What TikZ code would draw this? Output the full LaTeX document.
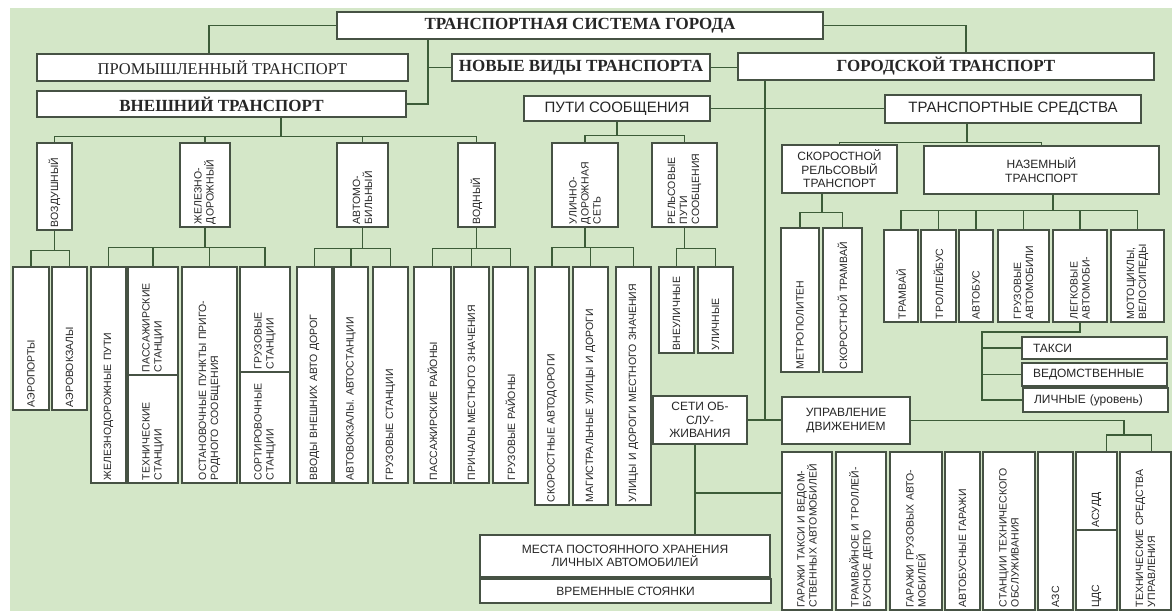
\documentclass[tikz,border=0pt]{standalone}
\usepackage{fontspec}
\setmainfont{Liberation Serif}
\setsansfont{Liberation Sans}
\usetikzlibrary{positioning,calc}
\definecolor{bggreen}{RGB}{212,231,200}
\definecolor{linegreen}{RGB}{60,92,56}
\definecolor{boxline}{RGB}{70,82,68}
\definecolor{inkgray}{RGB}{38,38,38}
\tikzset{
  topbox/.style={draw=boxline, fill=white, line width=1.2pt, inner sep=2pt, align=center, text=inkgray, font=\fontsize{17}{19}\selectfont\bfseries},
  topplain/.style={topbox, font=\fontsize{16.5}{19}\selectfont},
  midbox/.style={draw=boxline, fill=white, line width=1.2pt, inner sep=2pt, align=center, text=inkgray, font=\sffamily\fontsize{15}{17}\selectfont},
  smallbox/.style={midbox, font=\sffamily\fontsize{12}{13.5}\selectfont},
  listbox/.style={smallbox, align=left, text width=123},
  vbox/.style={draw=boxline, fill=white, line width=1.2pt, inner sep=2pt, rotate=90, align=left, text=inkgray, font=\sffamily\fontsize{10.5}{12}\selectfont},
  vsize/.code 2 args={\pgfmathsetlengthmacro\vtextw{#1-6}\pgfkeysalso{minimum width=#1, minimum height=#2, text width/.expand once=\vtextw}},
  link/.style={draw=linegreen, line width=1.2pt}
}

\begin{document}
\begin{tikzpicture}[x=1pt, y=-1pt]
  \useasboundingbox (0,0) rectangle (1172,611);
  \fill[white] (0,0) rectangle (1172,611);
  \fill[bggreen] (10,8) rectangle (1172,611);

  % upper levels
  \node[topbox, minimum width=486, minimum height=27] (root) at (580,25.5) {ТРАНСПОРТНАЯ СИСТЕМА ГОРОДА};
  \node[topplain, minimum width=371, minimum height=27] (prom) at (222.5,67.5) {ПРОМЫШЛЕННЫЙ ТРАНСПОРТ};
  \node[topbox, minimum width=369, minimum height=26] (vnesh) at (221.5,104) {ВНЕШНИЙ ТРАНСПОРТ};
  \node[topbox, minimum width=258, minimum height=27] (novye) at (581,67.5) {НОВЫЕ ВИДЫ ТРАНСПОРТА};
  \node[topbox, minimum width=416, minimum height=27] (gorod) at (946,66.5) {ГОРОДСКОЙ ТРАНСПОРТ};
  \node[midbox, minimum width=186, minimum height=25] (puti) at (617,108.5) {ПУТИ СООБЩЕНИЯ};
  \node[midbox, minimum width=256, minimum height=28] (sredstva) at (1013,109) {ТРАНСПОРТНЫЕ СРЕДСТВА};

  % external transport
  \node[vbox, vsize={87}{35}] (vozd) at (54.5,186.5) {ВОЗДУШНЫЙ};
  \node[vbox, vsize={84}{50}] (zhd) at (205,185) {ЖЕЛЕЗНО-\\ДОРОЖНЫЙ};
  \node[vbox, vsize={84}{51}] (avto) at (362.5,185) {АВТОМО-\\БИЛЬНЫЙ};
  \node[vbox, vsize={84}{37}] (vodn) at (476.5,185) {ВОДНЫЙ};
  \node[vbox, vsize={143}{36}] (aerop) at (31,338.5) {АЭРОПОРТЫ};
  \node[vbox, vsize={143}{35}] (aerov) at (69.5,338.5) {АЭРОВОКЗАЛЫ};
  \node[vbox, vsize={216}{35}] (zdput) at (108.5,375) {ЖЕЛЕЗНОДОРОЖНЫЕ ПУТИ};
  \node[vbox, vsize={108}{50}] (pass) at (153,321) {ПАССАЖИРСКИЕ\\СТАНЦИИ};
  \node[vbox, vsize={108}{50}] (tehn) at (153,429) {ТЕХНИЧЕСКИЕ\\СТАНЦИИ};
  \node[vbox, vsize={216}{55}] (ostan) at (209.5,375) {ОСТАНОВОЧНЫЕ ПУНКТЫ ПРИГО-\\РОДНОГО СООБЩЕНИЯ};
  \node[vbox, vsize={105}{50}] (gruzst) at (265,319.5) {ГРУЗОВЫЕ\\СТАНЦИИ};
  \node[vbox, vsize={111}{50}] (sort) at (265,427.5) {СОРТИРОВОЧНЫЕ\\СТАНЦИИ};
  \node[vbox, vsize={216}{35}] (vvody) at (314.5,375) {ВВОДЫ ВНЕШНИХ АВТО ДОРОГ};
  \node[vbox, vsize={216}{34}] (avtovokz) at (351,375) {АВТОВОКЗАЛЫ. АВТОСТАНЦИИ};
  \node[vbox, vsize={216}{35}] (gruzsta) at (390.5,375) {ГРУЗОВЫЕ СТАНЦИИ};
  \node[vbox, vsize={216}{37}] (passr) at (432.5,375) {ПАССАЖИРСКИЕ РАЙОНЫ};
  \node[vbox, vsize={216}{35}] (prich) at (471.5,375) {ПРИЧАЛЫ МЕСТНОГО ЗНАЧЕНИЯ};
  \node[vbox, vsize={216}{35}] (gruzr) at (510.5,375) {ГРУЗОВЫЕ РАЙОНЫ};

  % ways
  \node[vbox, vsize={84}{66}] (uds) at (585,185) {УЛИЧНО-\\ДОРОЖНАЯ\\СЕТЬ};
  \node[vbox, vsize={84}{65}] (rels) at (684.5,185) {РЕЛЬСОВЫЕ\\ПУТИ\\СООБЩЕНИЯ};
  \node[vbox, vsize={238}{34}] (skorad) at (552,386) {СКОРОСТНЫЕ АВТОДОРОГИ};
  \node[vbox, vsize={238}{35}] (magistr) at (590.5,386) {МАГИСТРАЛЬНЫЕ УЛИЦЫ И ДОРОГИ};
  \node[vbox, vsize={238}{35}] (mestn) at (633.5,386) {УЛИЦЫ И ДОРОГИ МЕСТНОГО ЗНАЧЕНИЯ};
  \node[vbox, vsize={86}{35}] (vneul) at (676.5,310) {ВНЕУЛИЧНЫЕ};
  \node[vbox, vsize={86}{35}] (ulichn) at (715.5,310) {УЛИЧНЫЕ};

  % vehicles
  \node[smallbox, minimum width=115, minimum height=48] (skor) at (839.5,169) {СКОРОСТНОЙ\\РЕЛЬСОВЫЙ\\ТРАНСПОРТ};
  \node[smallbox, minimum width=235, minimum height=48] (nazem) at (1041.5,170) {НАЗЕМНЫЙ\\ТРАНСПОРТ};
  \node[vbox, vsize={144}{38}] (metro) at (800,300) {МЕТРОПОЛИТЕН};
  \node[vbox, vsize={144}{39}] (skortr) at (842.5,300) {СКОРОСТНОЙ ТРАМВАЙ};
  \node[vbox, vsize={92}{34}] (tramv) at (901,276) {ТРАМВАЙ};
  \node[vbox, vsize={92}{35}] (troll) at (938.5,276) {ТРОЛЛЕЙБУС};
  \node[vbox, vsize={92}{34}] (avtob) at (976,276) {АВТОБУС};
  \node[vbox, vsize={92}{51}] (gruzav) at (1023.5,276) {ГРУЗОВЫЕ\\АВТОМОБИЛИ};
  \node[vbox, vsize={92}{54}] (legk) at (1080,276) {ЛЕГКОВЫЕ\\АВТОМОБИ-};
  \node[vbox, vsize={92}{53}] (moto) at (1137.5,276) {МОТОЦИКЛЫ,\\ВЕЛОСИПЕДЫ};
  \node[listbox, minimum width=145, minimum height=22] (taksi) at (1094.5,348) {ТАКСИ};
  \node[listbox, minimum width=145, minimum height=23] (vedom) at (1094.5,374.5) {ВЕДОМСТВЕННЫЕ};
  \node[listbox, minimum width=145, minimum height=24] (lichn) at (1095.5,400) {ЛИЧНЫЕ (уровень)};

  % service and control
  \node[smallbox, minimum width=94, minimum height=48] (seti) at (700,420) {СЕТИ ОБ-\\СЛУ-\\ЖИВАНИЯ};
  \node[smallbox, minimum width=128, minimum height=47] (upr) at (846,420.5) {УПРАВЛЕНИЕ\\ДВИЖЕНИЕМ};
  \node[smallbox, minimum width=290, minimum height=42] (mesta) at (625,556) {МЕСТА ПОСТОЯННОГО ХРАНЕНИЯ\\ЛИЧНЫХ АВТОМОБИЛЕЙ};
  \node[smallbox, minimum width=291, minimum height=24] (vrem) at (625.5,591) {ВРЕМЕННЫЕ СТОЯНКИ};
  \node[vbox, vsize={158}{50}] (garazh) at (807,531) {ГАРАЖИ ТАКСИ И ВЕДОМ-\\СТВЕННЫХ АВТОМОБИЛЕЙ};
  \node[vbox, vsize={158}{50}] (depo) at (861,531) {ТРАМВАЙНОЕ И ТРОЛЛЕЙ-\\БУСНОЕ ДЕПО};
  \node[vbox, vsize={158}{52}] (garzgr) at (916,531) {ГАРАЖИ ГРУЗОВЫХ АВТО-\\МОБИЛЕЙ};
  \node[vbox, vsize={158}{35}] (avtgar) at (962.5,531) {АВТОБУСНЫЕ ГАРАЖИ};
  \node[vbox, vsize={158}{52}] (sto) at (1009,531) {СТАНЦИИ ТЕХНИЧЕСКОГО\\ОБСЛУЖИВАНИЯ};
  \node[vbox, vsize={158}{35}] (azs) at (1055.5,531) {АЗС};
  \node[vbox, vsize={78}{41}] (asudd) at (1096.5,491) {АСУДД};
  \node[vbox, vsize={80}{41}] (cds) at (1096.5,570) {ЦДС};
  \node[vbox, vsize={158}{51}] (tsu) at (1145.5,531) {ТЕХНИЧЕСКИЕ СРЕДСТВА\\УПРАВЛЕНИЯ};

  \coordinate (legkbus) at (982,332);
  \coordinate (uprbus) at (1124,435);
  \coordinate (setibot) at ([xshift=-5pt]seti.south);

  % connectors
  \draw[link] (root.west) -| ([xshift=-13.5pt]prom.north);
  \draw[link] ([xshift=-152pt]root.south) |- (vnesh.east);
  \draw[link] (novye.west) -| ([xshift=-152pt]root.south);
  \draw[link] (root.east) -| ([xshift=20pt]gorod.north);
  \draw[link] (novye.east) -- (novye.east -| gorod.west);
  \draw[link] ([xshift=-181pt]gorod.south) |- (upr.west);
  \draw[link] (seti.east) -- (seti.east -| upr.west);
  \draw[link] (puti.east) -- (puti.east -| sredstva.west);

  \foreach \c in {vozd,zhd,avto,vodn}
    \draw[link] ([xshift=59.5pt]vnesh.south) -- ++(0,19) -| (\c.east);
  \foreach \c in {aerop,aerov}
    \draw[link] (vozd.west) -- ++(0,20) -| (\c.east);
  \foreach \c in {zdput,pass,ostan,gruzst}
    \draw[link] (zhd.west) -- ++(0,20) -| (\c.east);
  \foreach \c in {vvody,avtovokz,gruzsta}
    \draw[link] (avto.west) -- ++(0,21) -| (\c.east);
  \foreach \c in {passr,prich,gruzr}
    \draw[link] (vodn.west) -- ++(0,21) -| (\c.east);
  \foreach \c in {uds,rels}
    \draw[link] (puti.south) -- ++(0,14) -| (\c.east);
  \foreach \c in {skorad,magistr,mestn}
    \draw[link] (uds.west) -- ++(0,20) -| (\c.east);
  \foreach \c in {vneul,ulichn}
    \draw[link] (rels.west) -- ++(0,21) -| (\c.east);
  \foreach \c in {skor,nazem}
    \draw[link] ([xshift=-46pt]sredstva.south) -- ++(0,19) -| (\c.north);
  \foreach \c in {metro,skortr}
    \draw[link] ([xshift=-17.5pt]skor.south) -- ++(0,19) -| (\c.east);
  \foreach \c in {tramv,troll,avtob,gruzav,legk,moto}
    \draw[link] ([xshift=11.5pt]nazem.south) -- ++(0,16) -| (\c.east);

  \draw[link] (legk.west) |- (legkbus) |- (lichn.west);
  \draw[link] (legkbus) |- (taksi.west);
  \draw[link] (legkbus) |- (vedom.west);

  \draw[link] (setibot) -- (setibot |- mesta.north);
  \draw[link] ([yshift=38pt]garazh.north) -| (setibot);

  \draw[link] (upr.east) -| (uprbus);
  \draw[link] (uprbus) -| ([xshift=10pt]asudd.east);
  \draw[link] (uprbus) -| ([xshift=6pt]tsu.east);
\end{tikzpicture}
\end{document}
